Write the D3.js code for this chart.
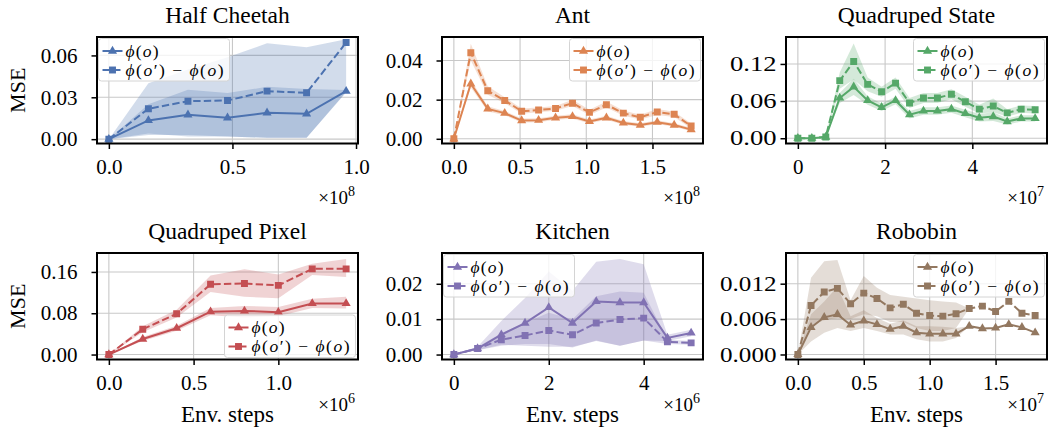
<!DOCTYPE html>
<html>
<head>
<meta charset="utf-8">
<script src="https://cdn.jsdelivr.net/npm/d3@7"></script>
<style>
  body { margin: 0; background: #fff; }
</style>
</head>
<body>
<svg id="chart" width="1050" height="429"></svg>
<script>
// ---- data (x in units of 10^exp env. steps) ----
const titles = ["Half Cheetah", "Ant", "Quadruped State", "Quadruped Pixel", "Kitchen", "Robobin"];
const exponents = [8, 8, 7, 6, 6, 7];

// Half Cheetah
const hcSteps  = [0, 0.16, 0.32, 0.48, 0.64, 0.80, 0.96];
const hcPhi    = [0, 0.0134, 0.0175, 0.0153, 0.0189, 0.0182, 0.0344];
const hcPhiLo  = [0, 0.003, 0.003, 0.002, 0.001, 0.001, 0.0335];
const hcPhiHi  = [0, 0.025, 0.0354, 0.033, 0.0375, 0.036, 0.0352];
const hcDiff   = [0, 0.0218, 0.0272, 0.0277, 0.0344, 0.0332, 0.0692];
const hcDiffLo = [0, 0.004, 0.002, 0.002, 0.001, 0.001, 0.034];
const hcDiffHi = [0, 0.040, 0.050, 0.0587, 0.0687, 0.0659, 0.0715];

// Ant
const antSteps  = [0, 0.128, 0.256, 0.384, 0.512, 0.64, 0.768, 0.896, 1.024, 1.152, 1.28, 1.408, 1.536, 1.664, 1.792];
const antPhi    = [0, 0.0281, 0.0153, 0.0131, 0.0093, 0.0095, 0.0107, 0.0114, 0.0089, 0.0107, 0.0081, 0.0070, 0.0085, 0.0070, 0.0047];
const antPhiLo  = [0, 0.0262, 0.0140, 0.0120, 0.0083, 0.0085, 0.0097, 0.0103, 0.0080, 0.0097, 0.0072, 0.0061, 0.0076, 0.0061, 0.0038];
const antPhiHi  = [0, 0.0300, 0.0166, 0.0142, 0.0104, 0.0105, 0.0118, 0.0126, 0.0099, 0.0118, 0.0091, 0.0080, 0.0095, 0.0080, 0.0056];
const antDiff   = [0, 0.0440, 0.0245, 0.0196, 0.0141, 0.0147, 0.0155, 0.0182, 0.0135, 0.0174, 0.0131, 0.0110, 0.0137, 0.0125, 0.0065];
const antDiffLo = [0, 0.0400, 0.0225, 0.0182, 0.0128, 0.0135, 0.0143, 0.0168, 0.0122, 0.0160, 0.0118, 0.0098, 0.0122, 0.0112, 0.0052];
const antDiffHi = [0, 0.0485, 0.0268, 0.0212, 0.0155, 0.0160, 0.0168, 0.0200, 0.0148, 0.0190, 0.0145, 0.0123, 0.0152, 0.0138, 0.0078];

// Quadruped State
const qsSteps  = [0, 0.32, 0.64, 0.96, 1.28, 1.60, 1.92, 2.24, 2.56, 2.88, 3.20, 3.52, 3.84, 4.16, 4.48, 4.80, 5.12, 5.44];
const qsPhi    = [0, 0, 0.002, 0.065, 0.083, 0.061, 0.050, 0.061, 0.038, 0.044, 0.044, 0.047, 0.040, 0.033, 0.035, 0.027, 0.032, 0.032];
const qsPhiLo  = [0, 0, 0.001, 0.057, 0.070, 0.054, 0.044, 0.055, 0.032, 0.038, 0.038, 0.041, 0.034, 0.027, 0.028, 0.022, 0.027, 0.027];
const qsPhiHi  = [0, 0, 0.003, 0.073, 0.096, 0.068, 0.056, 0.067, 0.044, 0.050, 0.050, 0.053, 0.046, 0.039, 0.042, 0.032, 0.037, 0.037];
const qsDiff   = [0, 0, 0.002, 0.093, 0.124, 0.087, 0.075, 0.089, 0.057, 0.065, 0.065, 0.071, 0.059, 0.047, 0.052, 0.041, 0.047, 0.046];
const qsDiffLo = [0, 0, 0.001, 0.080, 0.095, 0.076, 0.067, 0.080, 0.049, 0.057, 0.057, 0.063, 0.051, 0.040, 0.042, 0.035, 0.041, 0.040];
const qsDiffHi = [0, 0, 0.003, 0.106, 0.153, 0.098, 0.083, 0.098, 0.065, 0.073, 0.073, 0.079, 0.067, 0.054, 0.064, 0.047, 0.053, 0.052];

// Quadruped Pixel
const qpSteps  = [0, 0.2, 0.4, 0.6, 0.8, 1.0, 1.2, 1.4];
const qpPhi    = [0, 0.030, 0.051, 0.083, 0.0845, 0.082, 0.099, 0.099];
const qpPhiLo  = [0, 0.026, 0.046, 0.076, 0.072, 0.074, 0.090, 0.089];
const qpPhiHi  = [0, 0.034, 0.056, 0.090, 0.094, 0.092, 0.108, 0.112];
const qpDiff   = [0, 0.049, 0.079, 0.136, 0.1375, 0.134, 0.166, 0.166];
const qpDiffLo = [0, 0.043, 0.072, 0.121, 0.112, 0.109, 0.154, 0.150];
const qpDiffHi = [0, 0.055, 0.087, 0.153, 0.165, 0.155, 0.176, 0.185];

// Kitchen
const kiSteps  = [0, 0.5, 1.0, 1.5, 2.0, 2.5, 3.0, 3.5, 4.0, 4.5, 5.0];
const kiPhi    = [0, 0.0017, 0.0056, 0.0089, 0.0133, 0.0089, 0.0150, 0.0147, 0.0147, 0.0047, 0.0061];
const kiPhiLo  = [0, 0.0012, 0.0025, 0.0030, 0.0030, 0.0020, 0.0040, 0.0025, 0.0040, 0.0038, 0.0052];
const kiPhiHi  = [0, 0.0022, 0.0095, 0.0160, 0.0235, 0.0180, 0.0262, 0.0270, 0.0255, 0.0056, 0.0070];
const kiDiff   = [0, 0.0017, 0.0042, 0.0054, 0.0068, 0.0056, 0.0089, 0.0099, 0.0103, 0.0036, 0.0033];
const kiDiffLo = [0, 0.0013, 0.0028, 0.0025, 0.0022, 0.0022, 0.0038, 0.0025, 0.0040, 0.0030, 0.0028];
const kiDiffHi = [0, 0.0021, 0.0060, 0.0090, 0.0118, 0.0100, 0.0165, 0.0178, 0.0175, 0.0042, 0.0038];

// Robobin
const rbSteps  = [0, 0.1, 0.2, 0.3, 0.4, 0.5, 0.6, 0.7, 0.8, 0.9, 1.0, 1.1, 1.2, 1.3, 1.4, 1.5, 1.6, 1.7, 1.8];
const rbPhi    = [0, 0.0046, 0.0063, 0.0068, 0.0050, 0.0057, 0.0051, 0.0043, 0.0048, 0.0037, 0.0035, 0.0035, 0.0035, 0.0048, 0.0044, 0.0045, 0.0051, 0.0046, 0.0037];
const rbPhiLo  = [0, 0.0022, 0.0037, 0.0045, 0.0040, 0.0045, 0.0040, 0.0034, 0.0034, 0.0026, 0.0022, 0.0022, 0.0028, 0.0048, 0.0044, 0.0045, 0.0051, 0.0046, 0.0037];
const rbPhiHi  = [0, 0.0068, 0.0090, 0.0115, 0.0065, 0.0075, 0.0062, 0.0052, 0.0058, 0.0048, 0.0048, 0.0047, 0.0045, 0.0048, 0.0044, 0.0045, 0.0051, 0.0046, 0.0037];
const rbDiff   = [0, 0.0083, 0.0106, 0.0112, 0.0086, 0.0104, 0.0095, 0.0079, 0.0085, 0.0070, 0.0066, 0.0065, 0.0069, 0.0078, 0.0082, 0.0073, 0.0090, 0.0070, 0.0066];
const rbDiffLo = [0, 0.0050, 0.0058, 0.0062, 0.0060, 0.0068, 0.0065, 0.0055, 0.0055, 0.0045, 0.0040, 0.0040, 0.0045, 0.0078, 0.0082, 0.0073, 0.0090, 0.0070, 0.0066];
const rbDiffHi = [0, 0.0130, 0.0158, 0.0160, 0.0092, 0.0133, 0.0113, 0.0101, 0.0098, 0.0095, 0.0092, 0.0090, 0.0088, 0.0078, 0.0082, 0.0073, 0.0090, 0.0070, 0.0066];

// axes limits and ticks
const yLimits = [[-0.0031, 0.0732], [-0.0024, 0.052], [-0.0085, 0.1635], [-0.0096, 0.1967], [-0.0014, 0.0287], [-0.00085, 0.0172]];
const yTicks = [[0, 0.03, 0.06], [0, 0.02, 0.04], [0, 0.06, 0.12], [0, 0.08, 0.16], [0, 0.01, 0.02], [0, 0.006, 0.012]];
const yTickLabels = [["0.00", "0.03", "0.06"], ["0.00", "0.02", "0.04"], ["0.00", "0.06", "0.12"],
                     ["0.00", "0.08", "0.16"], ["0.00", "0.01", "0.02"], ["0.000", "0.006", "0.012"]];
const xTicks = [[0, 0.5, 1.0], [0, 0.5, 1.0, 1.5], [0, 2, 4], [0, 0.5, 1.0], [0, 2, 4], [0, 0.5, 1.0, 1.5]];
const xTickLabels = [["0.0", "0.5", "1.0"], ["0.0", "0.5", "1.0", "1.5"], ["0", "2", "4"],
                     ["0.0", "0.5", "1.0"], ["0", "2", "4"], ["0.0", "0.5", "1.0", "1.5"]];

// ---- style / layout ----
const colors = ["#4C72B0", "#DD8452", "#55A868", "#C44E52", "#8172B3", "#937860"];
const legendCorner = ["ul", "ur", "ur", "lr", "ul", "ur"];
const FONT = '"Liberation Serif", "Times New Roman", serif';
const colLeft = [97, 442, 786];
const rowTop = [37, 253];
const W = 261, H = 106.5;
const labelGap = [14, 14, 4];
const yLabelWidth = [null, null, 46.5, null, null, 56.5];   // right column labels are drawn wider
const DASH = "7.4,3.2";

const svg = d3.select("#chart");

const panels = titles.map((t, i) => ({
  title: t,
  steps: [hcSteps, antSteps, qsSteps, qpSteps, kiSteps, rbSteps][i],
  phi: [hcPhi, antPhi, qsPhi, qpPhi, kiPhi, rbPhi][i],
  phiLo: [hcPhiLo, antPhiLo, qsPhiLo, qpPhiLo, kiPhiLo, rbPhiLo][i],
  phiHi: [hcPhiHi, antPhiHi, qsPhiHi, qpPhiHi, kiPhiHi, rbPhiHi][i],
  diff: [hcDiff, antDiff, qsDiff, qpDiff, kiDiff, rbDiff][i],
  diffLo: [hcDiffLo, antDiffLo, qsDiffLo, qpDiffLo, kiDiffLo, rbDiffLo][i],
  diffHi: [hcDiffHi, antDiffHi, qsDiffHi, qpDiffHi, kiDiffHi, rbDiffHi][i]
}));

const tri = d3.symbol().type(d3.symbolTriangle).size(36);
const sq = d3.symbol().type(d3.symbolSquare).size(48);

function legendLabel(text, parts, width) {
  parts.forEach(([s, it]) => {
    text.append("tspan").attr("font-style", it ? "italic" : "normal").text(s);
  });
  text.attr("textLength", width).attr("lengthAdjust", "spacing");
}

function drawLegend(g, x, y, color) {
  g.append("rect").attr("x", x).attr("y", y).attr("width", 131).attr("height", 42.5)
    .attr("rx", 3).attr("fill", "#fff").attr("fill-opacity", 0.8)
    .attr("stroke", "#d4d4d4").attr("stroke-width", 1);
  const rows = [
    { sym: tri, dash: null, parts: [["ϕ", 1], ["(", 0], ["o", 1], [")", 0]], w: 33 },
    { sym: sq, dash: DASH, parts: [["ϕ", 1], ["(", 0], ["o", 1], ["′", 0], [")", 0], [" − ", 0], ["ϕ", 1], ["(", 0], ["o", 1], [")", 0]], w: 98 }
  ];
  rows.forEach((r, k) => {
    const cy = y + 12.5 + k * 19;
    g.append("line").attr("x1", x + 4).attr("x2", x + 24).attr("y1", cy).attr("y2", cy)
      .attr("stroke", color).attr("stroke-width", 2).attr("stroke-dasharray", r.dash);
    g.append("path").attr("d", r.sym()).attr("transform", `translate(${x + 14},${cy})`).attr("fill", color);
    const t = g.append("text").attr("x", x + 27).attr("y", cy).attr("dy", "0.33em")
      .attr("font-size", 17.5).attr("font-family", FONT);
    legendLabel(t, r.parts, r.w);
  });
}

panels.forEach((p, i) => {
  const col = i % 3, row = Math.floor(i / 3);
  const x0 = colLeft[col], y0 = rowTop[row];
  const color = colors[i];
  const ext = d3.extent(p.steps);
  const m = 0.05 * (ext[1] - ext[0]);
  const x = d3.scaleLinear().domain([ext[0] - m, ext[1] + m]).range([x0, x0 + W]);
  const y = d3.scaleLinear().domain(yLimits[i]).range([y0 + H, y0]);
  const g = svg.append("g");

  g.append("clipPath").attr("id", "clip" + i).append("rect")
    .attr("x", x0).attr("y", y0).attr("width", W).attr("height", H);

  // grid
  const grid = g.append("g").attr("stroke", "#c8c8c8").attr("stroke-width", 1.1);
  xTicks[i].forEach(v => grid.append("line").attr("x1", x(v)).attr("x2", x(v)).attr("y1", y0).attr("y2", y0 + H));
  yTicks[i].forEach(v => grid.append("line").attr("x1", x0).attr("x2", x0 + W).attr("y1", y(v)).attr("y2", y(v)));

  const plot = g.append("g").attr("clip-path", `url(#clip${i})`);
  const idx = d3.range(p.steps.length);
  const band = (lo, hi) => d3.area().x(j => x(p.steps[j])).y0(j => y(lo[j])).y1(j => y(hi[j]));
  plot.append("path").attr("d", band(p.phiLo, p.phiHi)(idx)).attr("fill", color).attr("fill-opacity", 0.25);
  plot.append("path").attr("d", band(p.diffLo, p.diffHi)(idx)).attr("fill", color).attr("fill-opacity", 0.25);

  const line = vals => d3.line().x(j => x(p.steps[j])).y(j => y(vals[j]));
  plot.append("path").attr("d", line(p.phi)(idx)).attr("fill", "none")
    .attr("stroke", color).attr("stroke-width", 2);
  plot.selectAll(null).data(idx).join("path").attr("d", tri())
    .attr("transform", j => `translate(${x(p.steps[j])},${y(p.phi[j])})`).attr("fill", color);
  plot.append("path").attr("d", line(p.diff)(idx)).attr("fill", "none")
    .attr("stroke", color).attr("stroke-width", 2).attr("stroke-dasharray", DASH);
  plot.selectAll(null).data(idx).join("path").attr("d", sq())
    .attr("transform", j => `translate(${x(p.steps[j])},${y(p.diff[j])})`).attr("fill", color);

  // axes
  const xa = g.append("g").attr("transform", `translate(0,${y0 + H})`)
    .call(d3.axisBottom(x).tickValues(xTicks[i]).tickFormat((d, j) => xTickLabels[i][j])
      .tickSize(5.5).tickPadding(10.5));
  const ya = g.append("g").attr("transform", `translate(${x0},0)`)
    .call(d3.axisLeft(y).tickValues(yTicks[i]).tickFormat((d, j) => yTickLabels[i][j])
      .tickSize(5.5).tickPadding(labelGap[col]));
  [xa, ya].forEach(a => {
    a.select(".domain").remove();
    a.attr("font-family", FONT).attr("font-size", 21);
    a.selectAll("line").attr("stroke-width", 1.5);
  });
  if (yLabelWidth[i]) {
    ya.selectAll("text").attr("textLength", yLabelWidth[i]).attr("lengthAdjust", "spacingAndGlyphs");
  }

  // spines
  g.append("rect").attr("x", x0).attr("y", y0).attr("width", W).attr("height", H)
    .attr("fill", "none").attr("stroke", "#000").attr("stroke-width", 2);

  // title
  g.append("text").attr("x", x0 + W / 2).attr("y", y0 - 14.5).attr("text-anchor", "middle")
    .attr("font-family", FONT).attr("font-size", 23.5).text(p.title);

  // offset text
  const off = g.append("text").attr("x", x0 + W - 3).attr("y", y0 + H + (row === 0 ? 60 : 51))
    .attr("text-anchor", "end").attr("font-family", FONT).attr("font-size", 19);
  off.append("tspan").text("×10");
  off.append("tspan").attr("dy", -8).attr("font-size", 14).text(exponents[i]);

  if (col === 0) {
    g.append("text").attr("transform", `translate(17,${y0 + H / 2}) rotate(-90)`)
      .attr("text-anchor", "middle").attr("dy", "0.35em")
      .attr("font-family", FONT).attr("font-size", 22).text("MSE");
  }
  if (row === 1) {
    g.append("text").attr("x", x0 + W / 2).attr("y", y0 + H + 62.5).attr("text-anchor", "middle")
      .attr("font-family", FONT).attr("font-size", 23).text("Env. steps");
  }

  // legend
  const c = legendCorner[i];
  const lx = c === "ul" ? x0 + 1.5 : x0 + W - 2.5 - 131;
  const ly = c === "lr" ? y0 + H - 2 - 42.5 : y0 + 1.5;
  drawLegend(g, lx, ly, color);
});
</script>
</body>
</html>
